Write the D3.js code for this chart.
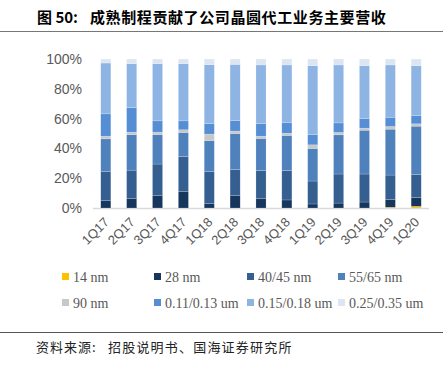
<!DOCTYPE html>
<html>
<head>
<meta charset="utf-8">
<script src="https://cdn.jsdelivr.net/npm/d3@7"></script>
<style>
  body { margin: 0; background: #fff; }
  svg { display: block; }
</style>
</head>
<body>
<svg id="canvas" width="443" height="367"></svg>
<script>
var quarters = ["1Q17","2Q17","3Q17","4Q17","1Q18","2Q18","3Q18","4Q18","1Q19","2Q19","3Q19","4Q19","1Q20"];
var seriesNames = ["14 nm","28 nm","40/45 nm","55/65 nm","90 nm","0.11/0.13 um","0.15/0.18 um","0.25/0.35 um"];
var seriesColors = ["#FFC000","#17365D","#365F91","#4F81BD","#C8C8C8","#558ED5","#8EB4E3","#DCE6F2"];

// percent share per quarter
var nm14   = [0,   0,   0,   0,   0,   0,   0,   0,   0,   0,   0,   0.5, 1.1];
var nm28   = [4.9, 6.3, 8.5, 11.2,2.9, 8.5, 6.5, 5.4, 2.7, 3.3, 4.0, 5.1, 6.0];
var nm40   = [19.7,19.1,21.0,23.4,21.7,17.4,18.7,19.8,15.4,19.5,18.8,16.5,15.4];
var nm55   = [21.8,23.9,19.8,16.1,20.7,24.1,21.5,23.5,21.9,26.3,29.4,30.8,32.4];
var nm90   = [1.8, 1.6, 1.6, 1.8, 4.3, 1.6, 1.5, 1.5, 2.4, 1.6, 1.4, 1.8, 1.6];
var um011  = [15.0,16.5,7.6, 6.0, 7.1, 7.1, 8.5, 7.2, 6.9, 6.4, 6.4, 6.2, 5.6];
var um015  = [34.1,29.5,38.4,38.4,39.5,37.7,39.3,38.6,46.2,38.9,35.5,35.1,33.4];
var um025  = [2.7, 3.1, 3.1, 3.1, 3.8, 3.6, 4.0, 4.0, 4.5, 4.0, 4.5, 4.0, 4.5];

var yTicks = [0, 20, 40, 60, 80, 100];

var allSeries = [nm14, nm28, nm40, nm55, nm90, um011, um015, um025];
var rows = quarters.map(function (q, i) {
    var r = {q: q};
    var tot = 0;
    allSeries.forEach(function (s) { tot += s[i]; });
    seriesNames.forEach(function (n, k) { r[n] = allSeries[k][i] / tot; });
    return r;
});

var svg = d3.select("#canvas");
var grey = "#595959";

// title
var title = svg.append("text")
    .attr("y", 23)
    .attr("font-family", "'Noto Sans CJK SC', sans-serif")
    .attr("font-weight", "bold")
    .attr("font-size", 15)
    .attr("fill", "#000");
title.append("tspan").attr("x", 37).text("图 50:");
title.append("tspan").attr("x", 90).attr("letter-spacing", 0.6)
    .text("成熟制程贡献了公司晶圆代工业务主要营收");
svg.append("line").attr("x1", 0).attr("x2", 443).attr("y1", 31.5).attr("y2", 31.5)
    .attr("stroke", "#777").attr("stroke-width", 1.2);

var x = d3.scaleBand().domain(quarters).range([93, 429]).paddingInner(0.61).paddingOuter(0.3);
var y = d3.scaleLinear().domain([0, 1]).range([208, 59]);

var stack = d3.stack().keys(seriesNames)(rows);

svg.append("line").attr("x1", 93).attr("x2", 429).attr("y1", 208.5).attr("y2", 208.5)
    .attr("stroke", "#D9D9D9").attr("stroke-width", 1.5);

svg.selectAll("g.layer")
    .data(stack)
    .enter()
    .append("g")
    .attr("class", "layer")
    .attr("fill", (d, i) => seriesColors[i])
    .selectAll("rect")
    .data(d => d)
    .enter()
    .append("rect")
    .attr("x", d => x(d.data.q))
    .attr("width", x.bandwidth())
    .attr("y", d => y(d[1]))
    .attr("height", d => Math.max(0, y(d[0]) - y(d[1])))
    .attr("stroke", "rgba(255,255,255,0.35)")
    .attr("stroke-width", 0.5);

// y axis labels
svg.selectAll("text.ytick")
    .data(yTicks)
    .enter()
    .append("text")
    .attr("class", "ytick")
    .attr("x", 82)
    .attr("y", d => y(d / 100) + 5)
    .attr("text-anchor", "end")
    .attr("fill", grey)
    .attr("font-family", "'Liberation Sans', Arial, sans-serif")
    .attr("font-size", 14)
    .text(d => d + "%");

// x labels rotated
svg.selectAll("text.xtick")
    .data(quarters)
    .enter()
    .append("text")
    .attr("class", "xtick")
    .attr("text-anchor", "end")
    .attr("fill", grey)
    .attr("font-family", "'Liberation Sans', Arial, sans-serif")
    .attr("font-size", 13)
    .attr("transform", d => "translate(" + (x(d) + x.bandwidth() / 2 + 4) + ",223) rotate(-45)")
    .text(d => d);

// legend
var legX = [62, 154, 247, 338];
var legY = [277, 303];
seriesNames.forEach(function (n, i) {
    var col = i % 4, row = Math.floor(i / 4);
    var g = svg.append("g").attr("transform", "translate(" + legX[col] + "," + legY[row] + ")");
    g.append("rect").attr("x", 0).attr("y", -4).attr("width", 7).attr("height", 7).attr("fill", seriesColors[i]);
    g.append("text").attr("x", 11).attr("y", 5)
        .attr("fill", grey)
        .attr("font-family", "'Liberation Serif', 'Times New Roman', serif")
        .attr("font-size", 14)
        .text(n);
});

// footer
svg.append("line").attr("x1", 0).attr("x2", 443).attr("y1", 332.5).attr("y2", 332.5)
    .attr("stroke", "#555").attr("stroke-width", 1);
var foot = svg.append("text")
    .attr("y", 352)
    .attr("fill", "#222")
    .attr("font-family", "'Noto Sans CJK SC', sans-serif")
    .attr("font-size", 13);
foot.append("tspan").attr("x", 36).attr("letter-spacing", 1).text("资料来源:");
foot.append("tspan").attr("x", 108).attr("letter-spacing", 1.2).text("招股说明书、国海证券研究所");
</script>
</body>
</html>
